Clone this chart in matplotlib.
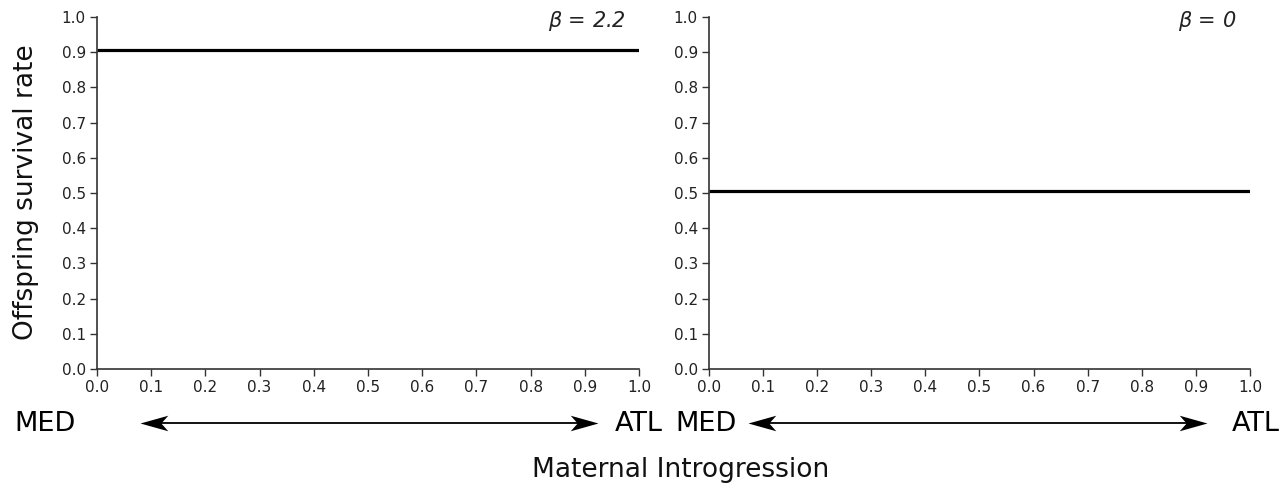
import matplotlib.pyplot as plt
from matplotlib.lines import Line2D
from matplotlib.path import Path

# data
intro = [0.0, 1.0]
surv_b22 = [0.905, 0.905]
surv_b0 = [0.505, 0.505]
panel_labels = [r"$\beta$ = 2.2", r"$\beta$ = 0"]
ticks = [round(0.1 * i, 1) for i in range(11)]

plt.rcParams["font.family"] = ["DejaVu Sans"]
plt.rcParams["mathtext.fontset"] = "dejavusans"

fig = plt.figure(figsize=(12.86, 4.90), dpi=100)

ax1 = fig.add_axes([0.0754, 0.2469, 0.4215, 0.7184])
ax2 = fig.add_axes([0.5513, 0.2469, 0.4207, 0.7184])

for ax, y, lab in zip([ax1, ax2], [surv_b22, surv_b0], panel_labels):
    ax.plot(intro, y, color="black", linewidth=2.3, solid_capstyle="butt")
    ax.set_xlim(0, 1)
    ax.set_ylim(0, 1)
    ax.set_xticks(ticks)
    ax.set_yticks(ticks)
    ax.set_xticklabels([f"{t:.1f}" for t in ticks])
    ax.set_yticklabels([f"{t:.1f}" for t in ticks])
    ax.tick_params(direction="out", length=5, width=1, color="#333333",
                   labelsize=11, labelcolor="#222222", pad=3)
    for s in ["top", "right"]:
        ax.spines[s].set_visible(False)
    for s in ["left", "bottom"]:
        ax.spines[s].set_color("#333333")
        ax.spines[s].set_linewidth(1.2)
    ax.text(0.975, 0.99, lab, transform=ax.transAxes, ha="right", va="center",
            fontsize=15, style="italic", color="#222222")

fig.text(0.020, 0.607, "Offspring survival rate", rotation=90,
         ha="center", va="center", fontsize=19, color="#111111")
fig.text(0.529, 0.04, "Maternal Introgression", ha="center", va="center",
         fontsize=19, color="#111111")

# MED <-> ATL arrows under each panel
for x0, x1 in [(0.011, 0.5155), (0.5255, 0.9955)]:
    fig.text(x0, 0.135, "MED", ha="left", va="center", fontsize=19.5)
    fig.text(x1, 0.135, "ATL", ha="right", va="center", fontsize=19.5)

# swept-back (stealth) arrow heads
head_r = Path([(0, 0), (-1.0, 0.28), (-0.75, 0), (-1.0, -0.28), (0, 0)],
              [Path.MOVETO, Path.LINETO, Path.LINETO, Path.LINETO, Path.CLOSEPOLY])
head_l = Path([(0, 0), (1.0, 0.28), (0.75, 0), (1.0, -0.28), (0, 0)],
              [Path.MOVETO, Path.LINETO, Path.LINETO, Path.LINETO, Path.CLOSEPOLY])

for a, b in [(0.109, 0.465), (0.5817, 0.9385)]:
    fig.add_artist(Line2D([a + 0.01, b - 0.01], [0.137, 0.137],
                          transform=fig.transFigure, color="black", linewidth=1.3))
    fig.add_artist(Line2D([a], [0.137], transform=fig.transFigure,
                          marker=head_l, markersize=40, color="black",
                          markeredgewidth=0, linestyle="none"))
    fig.add_artist(Line2D([b], [0.137], transform=fig.transFigure,
                          marker=head_r, markersize=40, color="black",
                          markeredgewidth=0, linestyle="none"))

fig.savefig("out.png", dpi=100)
